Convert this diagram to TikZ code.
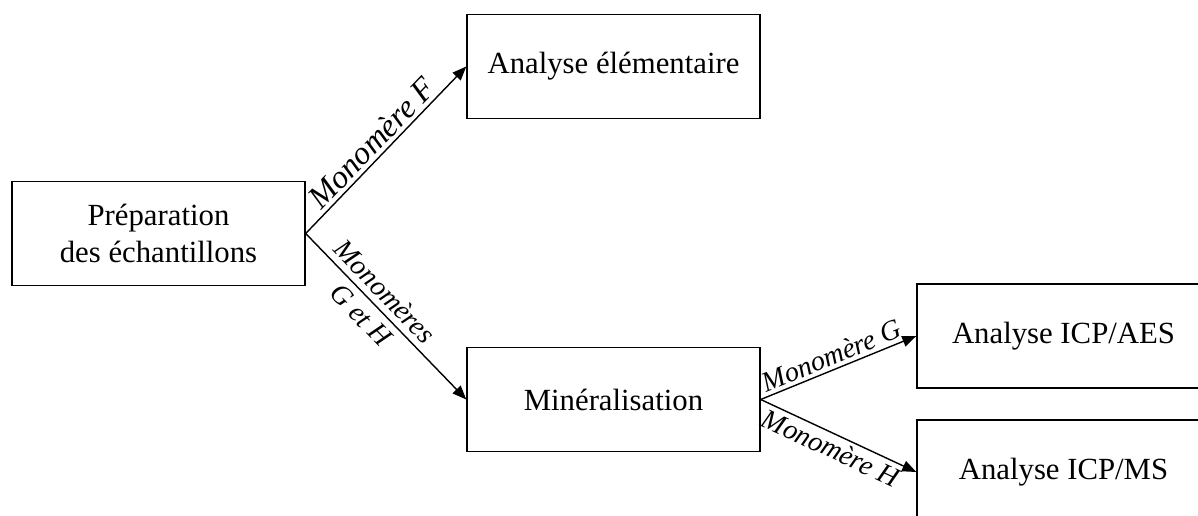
\documentclass[tikz,border=0pt]{standalone}
\usepackage{fontspec}
\setmainfont{Liberation Serif}
\usetikzlibrary{arrows.meta}

\tikzset{
  boite/.style={draw, line width=0.8pt, minimum width=5.86cm, minimum height=2.08cm,
    inner sep=0pt, align=center, font=\fontsize{17.5}{21}\selectfont},
  fleche/.style={line width=0.8pt, -{Triangle[length=2.8mm,width=2.2mm]}},
  etiq/.style={sloped, font=\fontsize{16}{19}\selectfont\itshape, inner sep=2pt}
}

\begin{document}
\begin{tikzpicture}
        % cadre de l'image
        \useasboundingbox (0,0) rectangle (23.96,10.3);
        \clip (0,0) rectangle (23.96,10.3);
        % boites
        \node[boite] (prep) at (3.17,5.63) {Préparation\\des échantillons};
        \node[boite] (elem) at (12.27,8.97) {Analyse élémentaire};
        \node[boite] (mine) at (12.27,2.31) {Minéralisation};
        \node[boite] (aes) at (21.27,3.58) {Analyse ICP/AES};
        \node[boite] (ms) at (21.27,0.86) {Analyse ICP/MS};
        % fleches depuis la preparation
        \draw[fleche] (prep.east) -- node[etiq, above, pos=0.48, font=\fontsize{18.5}{22}\selectfont\itshape] {Monomère F} (elem.west);
        \draw[fleche] (prep.east) -- node[etiq, pos=0.42, align=center] {Monomères\\G et H} (mine.west);
        % fleches depuis la mineralisation
        \draw[fleche] (mine.east) -- node[etiq, above, pos=0.49] {Monomère G} (aes.west);
        \draw[fleche] (mine.east) -- node[etiq, below, pos=0.49] {Monomère H} (ms.west);
    \end{tikzpicture}
\end{document}
